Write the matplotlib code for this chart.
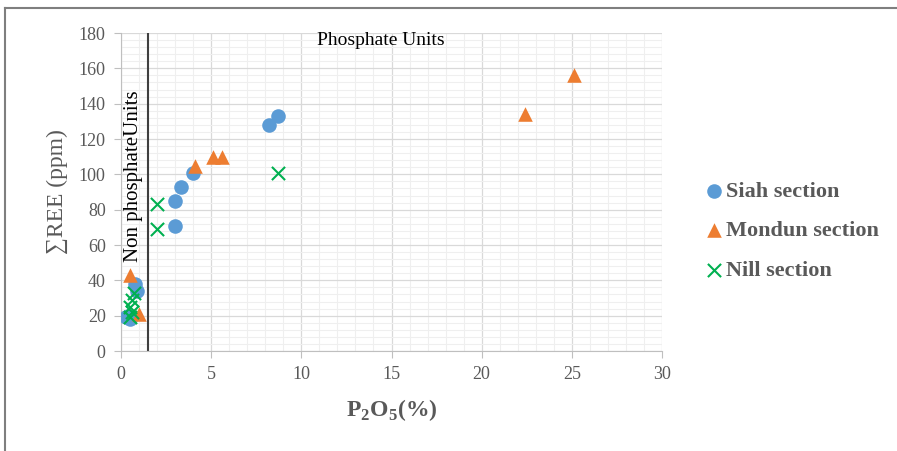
import matplotlib
matplotlib.use("Agg")
import matplotlib.pyplot as plt
from matplotlib.lines import Line2D
from matplotlib.ticker import MultipleLocator

plt.rcParams['font.family'] = ['Liberation Serif', 'DejaVu Serif']
plt.rcParams['mathtext.fontset'] = 'custom'
plt.rcParams['mathtext.rm'] = 'Liberation Serif'
plt.rcParams['mathtext.bf'] = 'Liberation Serif:bold'

# --- data: P2O5 (%) vs sum REE (ppm) ---
siah_p2o5 = [8.7, 8.2, 4.0, 3.3, 3.0, 3.0, 0.8, 0.9, 0.3, 0.5, 0.4]
siah_ree = [133, 128, 101, 93, 85, 71, 38, 34, 19, 18, 20]

mondun_p2o5 = [25.1, 22.4, 5.6, 5.1, 4.1, 0.5, 1.0]
mondun_ree = [156, 134, 110, 110, 105, 43, 21]

nill_p2o5 = [8.7, 2.0, 2.0, 0.5, 0.6, 0.5, 0.6, 0.7]
nill_ree = [101, 83, 69, 19, 22, 25, 29, 33]

series_names = ['Siah section', 'Mondun section', 'Nill section']
boundary_p2o5 = 1.5

gray_txt = '#595959'

fig = plt.figure(figsize=(8.97, 4.51), dpi=100)
ax = fig.add_axes([121 / 897, 100 / 451, 541 / 897, 318 / 451])

ax.scatter(siah_p2o5, siah_ree, s=110, marker='o', color='#5B9BD5',
           linewidths=0, label=series_names[0], zorder=3)
ax.scatter(mondun_p2o5, mondun_ree, s=110, marker='^', color='#ED7D31',
           linewidths=0, label=series_names[1], zorder=4)
ax.scatter(nill_p2o5, nill_ree, s=90, marker='x', color='#00B050',
           linewidths=1.5, label=series_names[2], zorder=5)

ax.axvline(boundary_p2o5, color='#404040', linewidth=1.5, zorder=2)

ax.set_xlim(0, 30)
ax.set_ylim(0, 180)
ax.xaxis.set_major_locator(MultipleLocator(5))
ax.yaxis.set_major_locator(MultipleLocator(20))
ax.xaxis.set_minor_locator(MultipleLocator(1))
ax.yaxis.set_minor_locator(MultipleLocator(4))
ax.grid(which='major', color='#D9D9D9', linewidth=0.9, zorder=0)
ax.grid(which='minor', color='#EFEFEF', linewidth=0.8, zorder=0)
ax.set_axisbelow(True)

for side in ['top', 'right']:
    ax.spines[side].set_visible(False)
for side in ['left', 'bottom']:
    ax.spines[side].set_color('#BFBFBF')
ax.tick_params(which='major', direction='out', length=5, color='#BFBFBF',
               labelsize=13, labelcolor=gray_txt, pad=6)
ax.tick_params(which='minor', length=0)

ax.set_xlabel(r'P$_\mathbf{2}$O$_\mathbf{5}$(%)', fontsize=17, fontweight='bold',
              color=gray_txt, labelpad=10)
ax.set_ylabel('∑REE (ppm)', fontsize=17, color=gray_txt, labelpad=8)

ax.text(14.4, 176, 'Phosphate Units', fontsize=14, ha='center', va='center')
ax.text(0.72, 99, 'Non phosphateUnits', fontsize=15, rotation=90,
        ha='center', va='center')

leg = ax.legend(loc='upper left', bbox_to_anchor=(692 / 897, 1 - 170 / 451),
                bbox_transform=fig.transFigure, frameon=False,
                prop={'size': 16, 'weight': 'bold'}, handletextpad=0.05,
                labelspacing=0.85, handlelength=1.0, borderpad=0)
for t in leg.get_texts():
    t.set_color(gray_txt)

# frame of the screenshot
fig.add_artist(Line2D([5 / 897, 5 / 897], [0, 1 - 8 / 451], transform=fig.transFigure,
                      color='#7F7F7F', linewidth=1.5))
fig.add_artist(Line2D([5 / 897, 1], [1 - 8 / 451, 1 - 8 / 451], transform=fig.transFigure,
                      color='#7F7F7F', linewidth=1.5))

fig.savefig('out.png', dpi=100)
